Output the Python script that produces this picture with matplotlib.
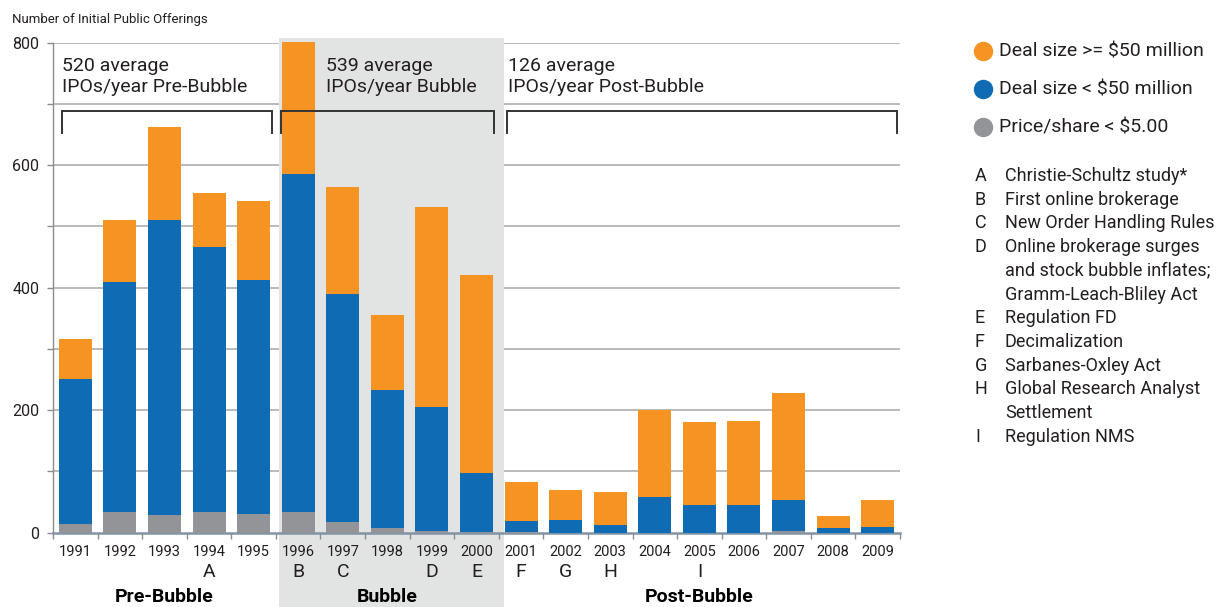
import matplotlib
matplotlib.use("Agg")
import matplotlib.pyplot as plt
from matplotlib import font_manager
from matplotlib.transforms import blended_transform_factory
from matplotlib.patches import Rectangle
from matplotlib.lines import Line2D

# ---------------- data ----------------
years = ["1991", "1992", "1993", "1994", "1995", "1996", "1997", "1998", "1999", "2000",
         "2001", "2002", "2003", "2004", "2005", "2006", "2007", "2008", "2009"]
total_ipos = [316, 510, 663, 555, 542, 801, 565, 356, 531, 420,
              82, 69, 66, 201, 180, 182, 228, 27, 53]
small_deals = [251, 409, 510, 467, 412, 585, 389, 233, 205, 97,
               19, 20, 12, 59, 46, 46, 54, 7, 9]
penny_price = [14, 33, 29, 33, 30, 33, 18, 8, 2, 1,
               1, 0, 0, 0, 0, 0, 2, 0, 0]
event_letters = ["", "", "", "A", "", "B", "C", "", "D", "E",
                 "F", "G", "H", "", "I", "", "", "", ""]
periods = ["Pre-Bubble", "Bubble", "Post-Bubble"]
period_avg = ["520 average\nIPOs/year Pre-Bubble",
              "539 average\nIPOs/year Bubble",
              "126 average\nIPOs/year Post-Bubble"]
legend_labels = ["Deal size >= $50 million", "Deal size < $50 million", "Price/share < $5.00"]
note_letters = ["A", "B", "C", "D", "", "", "E", "F", "G", "H", "", "I"]
note_texts = ["Christie-Schultz study*", "First online brokerage", "New Order Handling Rules",
              "Online brokerage surges", "and stock bubble inflates;", "Gramm-Leach-Bliley Act",
              "Regulation FD", "Decimalization", "Sarbanes-Oxley Act",
              "Global Research Analyst", "Settlement", "Regulation NMS"]

ORANGE = "#F59422"
BLUE = "#106BB5"
GRAY = "#929497"
SHADE = "#E2E3E3"
TXT = "#231F20"

# ---------------- fonts ----------------
avail = {f.name for f in font_manager.fontManager.ttflist}
fam = "Roboto" if "Roboto" in avail else "Liberation Sans"
plt.rcParams["font.family"] = [fam, "DejaVu Sans"]

W, H = 1224, 607
fig = plt.figure(figsize=(W / 100, H / 100), dpi=100)
ax = fig.add_axes([53 / W, 1 - 532.7 / H, (900 - 53) / W, (532.7 - 42.7) / H])

def fy(p):
    return 1 - p / H

n = len(years)
x = list(range(n))
large = [t - s for t, s in zip(total_ipos, small_deals)]
small_above = [s - p for s, p in zip(small_deals, penny_price)]

bw = 0.74
ax.bar(x, penny_price, bw, color=GRAY, zorder=3, clip_on=False)
ax.bar(x, small_above, bw, bottom=penny_price, color=BLUE, zorder=3, clip_on=False)
ax.bar(x, large, bw, bottom=small_deals, color=ORANGE, zorder=3, clip_on=False)

ax.set_xlim(-0.5, n - 0.5)
ax.set_ylim(0, 800)

# gridlines
for v in range(100, 801, 100):
    ax.axhline(v, color="#B4B4B4", lw=1.3, zorder=0.3)

# bubble shading
tb = blended_transform_factory(ax.transData, fig.transFigure)
ax.add_patch(Rectangle((4.57, 0), 9.62 - 4.57, fy(38), transform=tb, facecolor=SHADE,
                       edgecolor="none", zorder=0.8, clip_on=False))

# spines / ticks
for s in ["top", "right"]:
    ax.spines[s].set_visible(False)
ax.spines["left"].set_color("#8C8C8C")
ax.spines["left"].set_linewidth(1.0)
ax.spines["bottom"].set_color("#8193A4")
ax.spines["bottom"].set_linewidth(1.8)

ax.set_xticks(x)
ax.set_xticklabels(years, fontsize=10.5, color=TXT)
ax.set_xticks([i - 0.5 for i in range(n + 1)], minor=True)
ax.tick_params(axis="x", which="major", length=0, pad=9)
ax.tick_params(axis="x", which="minor", length=4, width=1, color="#8C8C8C", direction="out")
ax.set_yticks(range(0, 801, 100))
ax.set_yticklabels([str(v) if v % 200 == 0 else "" for v in range(0, 801, 100)],
                   fontsize=11.5, color=TXT)
ax.tick_params(axis="y", length=4, width=1, color="#8C8C8C", pad=6)

# event letters under years
for i, L in enumerate(event_letters):
    if L:
        ax.text(i, fy(572), L, transform=tb, ha="center", va="center", fontsize=14, color=TXT)

# period labels
period_centers = [2, 7, 14]
for c, lab in zip(period_centers, periods):
    ax.text(c, fy(597), lab, transform=tb, ha="center", va="center", fontsize=14,
            fontweight="bold", color="black")

# period averages and brackets
text_x = [-0.30, 5.62, 9.71]
brackets = [(-0.30, 4.41), (4.61, 9.39), (9.68, 18.43)]
for tx, txt in zip(text_x, period_avg):
    ax.text(tx, 776, txt, ha="left", va="top", fontsize=14, color=TXT, linespacing=1.22, zorder=4)
for x0, x1 in brackets:
    ax.plot([x0, x0, x1, x1], [653, 689, 689, 653], color="#333333", lw=1.4, zorder=4,
            clip_on=False, solid_joinstyle="miter")

# y-axis title
fig.text(12 / W, fy(20), "Number of Initial Public Offerings", ha="left", va="center",
         fontsize=9.5, color=TXT)

# legend
leg_colors = [ORANGE, BLUE, GRAY]
leg_y = [51, 89, 127]
for c, yy, lab in zip(leg_colors, leg_y, legend_labels):
    fig.add_artist(Line2D([983 / W], [fy(yy)], marker="o", markersize=14, color=c,
                          markeredgewidth=0, linestyle="none"))
    fig.text(999 / W, fy(yy), lab, ha="left", va="center", fontsize=14, color=TXT)

# notes
y0 = 176
for k, (L, t) in enumerate(zip(note_letters, note_texts)):
    yy = y0 + k * 23.7
    if L:
        fig.text(975 / W, fy(yy), L, ha="left", va="center", fontsize=13, color=TXT)
    fig.text(1005 / W, fy(yy), t, ha="left", va="center", fontsize=13, color=TXT)

fig.savefig("out.png", dpi=100)
